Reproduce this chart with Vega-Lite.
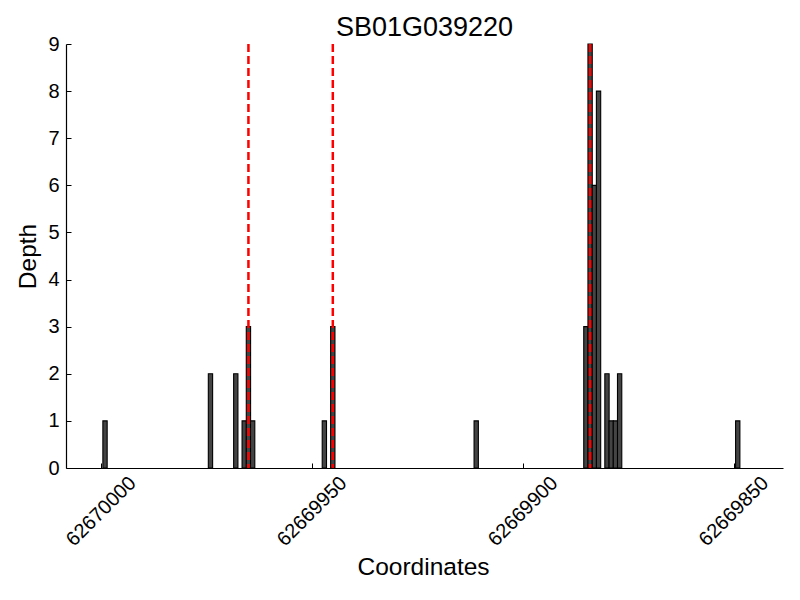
{
  "$schema": "https://vega.github.io/schema/vega-lite/v6.json",
  "autosize": "none",
  "width": 717,
  "height": 424,
  "padding": {"left": 66, "top": 44, "right": 17, "bottom": 132},
  "background": "white",
  "config": {
    "font": "Liberation Sans",
    "view": {"stroke": null},
    "axis": {
      "grid": false,
      "domainColor": "black",
      "domainWidth": 1.2,
      "tickColor": "black",
      "tickSize": -5,
      "tickWidth": 1,
      "labelColor": "black",
      "labelFontSize": 20,
      "labelFont": "Liberation Sans",
      "titleFont": "Liberation Sans",
      "titleFontSize": 24.5,
      "titleFontWeight": "normal",
      "titleColor": "black"
    }
  },
  "title": {
    "text": "SB01G039220",
    "font": "Liberation Sans",
    "fontSize": 27,
    "fontWeight": "normal",
    "color": "black",
    "anchor": "middle",
    "baseline": "bottom",
    "offset": 1,
    "dy": 36
  },
  "data": {
    "values": [
      {"pos": 62669999, "depth": 1},
      {"pos": 62669974, "depth": 2},
      {"pos": 62669968, "depth": 2},
      {"pos": 62669966, "depth": 1},
      {"pos": 62669965, "depth": 3},
      {"pos": 62669964, "depth": 1},
      {"pos": 62669947, "depth": 1},
      {"pos": 62669945, "depth": 3},
      {"pos": 62669911, "depth": 1},
      {"pos": 62669885, "depth": 3},
      {"pos": 62669884, "depth": 9},
      {"pos": 62669883, "depth": 6},
      {"pos": 62669882, "depth": 8},
      {"pos": 62669880, "depth": 2},
      {"pos": 62669879, "depth": 1},
      {"pos": 62669878, "depth": 1},
      {"pos": 62669877, "depth": 2},
      {"pos": 62669849, "depth": 1}
    ]
  },
  "layer": [
    {
      "mark": {"type": "bar", "width": 4.3, "fill": "#444444", "stroke": "black", "strokeWidth": 1.1},
      "encoding": {
        "x": {
          "field": "pos",
          "type": "quantitative",
          "scale": {"domain": [62669838.27, 62670008.25], "reverse": true, "nice": false, "zero": false, "padding": 0},
          "axis": {
            "values": [62670000, 62669950, 62669900, 62669850],
            "format": "d",
            "labelAngle": -45,
            "labelAlign": "center",
            "labelBaseline": "middle",
            "labelPadding": 48,
            "labelFlush": false,
            "title": "Coordinates",
            "titleX": 357,
            "titleY": 106,
            "titleAlign": "center",
            "titleBaseline": "alphabetic"
          }
        },
        "y": {
          "field": "depth",
          "type": "quantitative",
          "scale": {"domain": [0, 9], "nice": false, "padding": 0},
          "axis": {
            "values": [0, 1, 2, 3, 4, 5, 6, 7, 8, 9],
            "labelPadding": 12,
            "labelFlush": false,
            "title": "Depth",
            "titleX": -38,
            "titleY": 212,
            "titleAngle": -90,
            "titleAlign": "center",
            "titleBaseline": "middle"
          }
        }
      }
    },
    {
      "data": {
        "values": [
          {"pos": 62669965},
          {"pos": 62669945},
          {"pos": 62669884}
        ]
      },
      "mark": {"type": "rule", "color": "red", "strokeWidth": 2.5, "strokeDash": [8, 4]},
      "encoding": {
        "x": {"field": "pos", "type": "quantitative"}
      }
    }
  ]
}
